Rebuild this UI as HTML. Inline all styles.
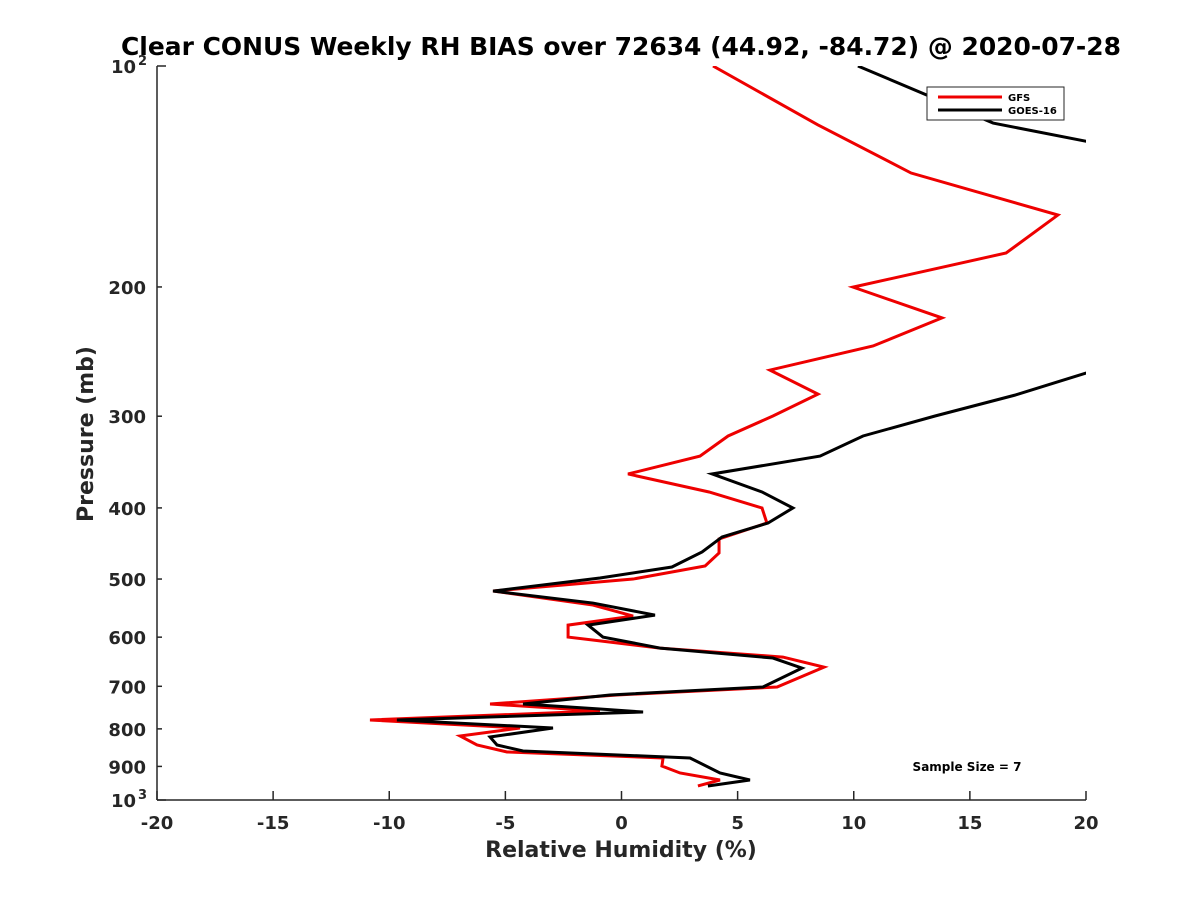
<!DOCTYPE html>
<html><head><meta charset="utf-8"><style>
body{margin:0;background:#fff}
svg{display:block;font-family:"DejaVu Sans","Liberation Sans",sans-serif;font-weight:bold}
</style></head><body>
<svg id="chart" width="1200" height="900">
<defs><clipPath id="plotclip"><rect x="157" y="66" width="929" height="734"/></clipPath></defs>
<text x="621" y="55" text-anchor="middle" font-size="25" textLength="1000" lengthAdjust="spacingAndGlyphs" fill="#000">Clear CONUS Weekly RH BIAS over 72634 (44.92, -84.72) @ 2020-07-28</text>
<g id="axes"></g>
<g id="series" clip-path="url(#plotclip)"></g>
<text x="621" y="857" text-anchor="middle" font-size="22" fill="#262626">Relative Humidity (%)</text>
<text transform="translate(93,434) rotate(-90)" text-anchor="middle" font-size="22" fill="#262626">Pressure (mb)</text>
<text x="967" y="771" text-anchor="middle" font-size="12" fill="#000">Sample Size = 7</text>
<g>
<rect x="927" y="87" width="137" height="33" fill="#fff" stroke="#262626" stroke-width="1"/>
<line x1="938" y1="97" x2="1002" y2="97" stroke="#e00" stroke-width="3"/>
<text x="1008" y="101" font-size="10" fill="#000">GFS</text>
<line x1="938" y1="110" x2="1002" y2="110" stroke="#000" stroke-width="3"/>
<text x="1008" y="114" font-size="10" fill="#000">GOES-16</text>
</g>
</svg>
<script>
const xTicks=[-20,-15,-10,-5,0,5,10,15,20];
const yTicks=[200,300,400,500,600,700,800,900];
const gfsP=[100,120.3,139.9,159.6,179.8,200.1,220.4,240.7,259.6,279.9,299.8,319.2,340.0,359.6,380.5,400.1,419.4,440.9,460.7,479.9,500.0,519.2,542.5,561.6,577.7,599.8,620.9,638.7,659.1,701.5,719.3,740.0,756.4,778.0,797.8,818.0,841.5,860.1,876.5,898.8,918.7,939.2,957.0];
const gfsRH=[3.94,8.46,12.47,18.79,16.56,9.97,13.80,10.83,6.39,8.46,6.52,4.59,3.38,0.28,3.77,6.05,6.26,4.20,4.20,3.60,0.50,-5.53,-1.23,0.50,-2.30,-2.30,1.66,6.95,8.72,6.70,-0.19,-5.66,-0.93,-10.83,-4.37,-6.95,-6.22,-4.93,1.79,1.74,2.52,4.24,3.29];
const goesP=[100,119.6,136,234,280.8,299.8,319.2,340.0,359.6,380.5,400.1,419.4,438.2,459.3,481.5,498.4,519.2,539.1,559.9,577.7,599.8,620.9,640.6,661.1,701.5,719.3,740.0,751.6,758.8,778.0,797.8,820.7,841.5,857.4,876.5,918.7,939.2,957.0];
const goesRH=[10.18,16.0,25.0,25.0,16.94,13.50,10.40,8.55,3.90,6.05,7.38,6.31,4.33,3.47,2.17,-0.93,-5.53,-1.23,1.44,-1.44,-0.80,1.66,6.52,7.77,6.09,-0.50,-4.24,-0.93,0.93,-9.67,-2.95,-5.66,-5.36,-4.24,2.95,4.24,5.53,3.72];
const X=v=>157+(v+20)*(929/40);
const Y=p=>66+Math.log10(p/100)*734;
const NS='http://www.w3.org/2000/svg';
const ax=document.getElementById('axes');
function mk(tag,attrs,parent){const e=document.createElementNS(NS,tag);for(const k in attrs)e.setAttribute(k,attrs[k]);parent.appendChild(e);return e;}
const la=mk('line',{x1:157,y1:66,x2:157,y2:800,stroke:'#262626','stroke-width':1.5},ax);


const ba=mk('line',{x1:157,y1:800,x2:1086,y2:800,stroke:'#262626','stroke-width':1.5},ax);


xTicks.forEach(v=>{
 const t=mk('line',{x1:X(v),y1:800,x2:X(v),y2:791,stroke:'#262626','stroke-width':1.5},ax);
 
 
 const l=mk('text',{x:X(v),y:829,'text-anchor':'middle','font-size':18,fill:'#262626'},ax);
 l.textContent=v;
 
 
});
[100,1000].forEach((p,i)=>{
 const t=mk('line',{x1:157,y1:Y(p),x2:166,y2:Y(p),stroke:'#262626','stroke-width':1.5},ax);
 
 
 const l=mk('text',{x:136,y:Y(p)+7,'text-anchor':'end','font-size':18,fill:'#262626'},ax);
 l.textContent='10';
 
 
 const s=mk('text',{x:138,y:Y(p)-1,'font-size':13,fill:'#262626'},ax);
 s.textContent=i?'3':'2';
 
 
});
yTicks.forEach(p=>{
 const t=mk('line',{x1:157,y1:Y(p),x2:162,y2:Y(p),stroke:'#262626','stroke-width':1.5},ax);
 
 
 const l=mk('text',{x:146,y:Y(p)+7,'text-anchor':'end','font-size':18,fill:'#262626'},ax);
 l.textContent=p;
 
 
});
const sg=document.getElementById('series');
const g1=mk('polyline',{points:gfsP.map((p,i)=>X(gfsRH[i])+','+Y(p)).join(' '),fill:'none',stroke:'#e00','stroke-width':3,'stroke-linejoin':'miter'},sg);


const g2=mk('polyline',{points:goesP.map((p,i)=>X(goesRH[i])+','+Y(p)).join(' '),fill:'none',stroke:'#000','stroke-width':3,'stroke-linejoin':'miter'},sg);


</script>
</body></html>
